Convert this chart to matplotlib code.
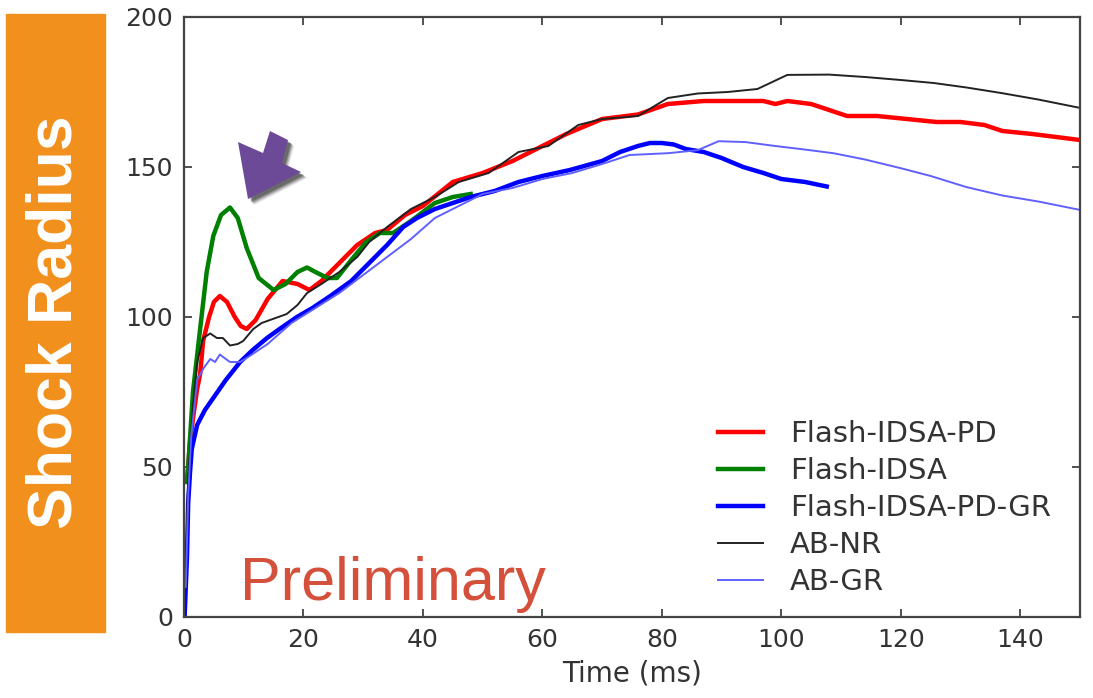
import matplotlib
matplotlib.use("Agg")
import matplotlib.pyplot as plt
from matplotlib.patches import Rectangle, Polygon

# Flash-IDSA-PD (red)
pd_t = [0.5, 1.0, 1.5, 2.2, 2.7, 3.2, 4.2, 5.0, 6.0, 7.2, 8.5, 9.5, 10.5, 12, 14, 16.5, 19, 21,
        23, 26, 29, 32, 34, 37, 40, 45, 50, 55, 59, 64, 70, 76, 81, 87, 92, 97, 99, 101, 105,
        108, 111, 116, 121, 126, 130, 134, 137, 142, 146, 150]
pd_r = [45, 58, 66, 76, 81, 92, 100, 105, 107, 105, 100, 97, 96, 99, 106, 112, 111, 109,
        112, 118, 124, 128, 129, 134, 137, 145, 148, 152, 156, 161, 166, 167.5, 171, 172, 172,
        172, 171, 172, 171, 169, 167, 167, 166, 165, 165, 164, 162, 161, 160, 159]

# Flash-IDSA (green)
idsa_t = [0.5, 0.7, 1.5, 2.7, 3.8, 4.9, 6.2, 7.7, 9, 10.5, 12.5, 15, 17, 19, 20.6, 22, 24,
          25.6, 28, 30.5, 32.8, 35, 38, 42, 45, 48]
idsa_r = [45, 50, 75, 96, 115, 127, 134, 136.5, 133, 123, 113, 109, 111, 115, 116.5, 115, 113,
          113, 119, 125, 128, 128, 132, 138, 140, 141]

# Flash-IDSA-PD-GR (blue)
gr_t = [0.1, 0.3, 0.5, 0.7, 1.0, 1.3, 2.2, 3.5, 4.9, 7, 9.4, 11.5, 13.9, 16, 18.9, 21.5, 24.5,
        28, 31, 34, 36.7, 39, 42, 45, 48, 52, 56, 60, 64.6, 70, 73, 76, 78, 80, 82, 84, 87, 90,
        93.6, 97, 100, 104, 107.6]
gr_r = [0, 10, 20, 38, 48, 56, 64, 69, 73, 79, 85, 89, 93, 96, 100, 103, 107, 112, 118, 124,
        130, 133, 136, 138, 140, 142, 145, 147, 149, 152, 155, 157, 158, 158, 157.5, 156, 155,
        153, 150, 148, 146, 145, 143.5]

# AB-NR (black)
abnr_t = [0.3, 0.6, 1.0, 1.5, 2.2, 3.2, 4.4, 5.5, 6.5, 7.7, 9, 9.9, 11.6, 13, 14.4, 17.2, 19,
          20.6, 23, 26, 29, 31, 34, 38, 42, 46, 51, 56, 61, 66, 70, 76, 81, 86, 91, 96, 101,
          108, 114, 120, 125.5, 131, 137, 143, 150]
abnr_r = [10, 40, 55, 70, 85, 93, 94.5, 93, 93, 90.5, 91, 92, 96, 98, 99, 101, 104, 108, 111,
          115, 120, 125, 130, 136, 140, 145, 148, 155, 157, 164, 166, 167, 173, 174.5, 175,
          176, 180.7, 180.8, 180, 179, 178, 176.5, 174.6, 172.5, 169.7]

# AB-GR (light blue)
abgr_t = [0.3, 0.7, 1.2, 2.2, 3.3, 4.4, 5.2, 6, 7, 7.7, 9.4, 11, 14, 18, 22, 26, 30, 34, 38,
          42, 46, 50, 55, 60, 65, 70, 74.6, 81, 86, 89.5, 94, 99, 104, 108.7, 114, 120, 125,
          131, 137, 143, 150]
abgr_r = [10, 40, 60, 79, 83, 86, 85, 87.5, 86, 85, 85, 87, 91, 98, 103, 108, 114, 120, 126,
          133, 137, 141, 143, 146, 148, 151, 154, 154.6, 155.6, 158.6, 158.3, 157, 155.8,
          154.6, 152.5, 149.6, 147, 143.3, 140.5, 138.5, 135.7]

x_ticks = [0, 20, 40, 60, 80, 100, 120, 140]
y_ticks = [0, 50, 100, 150, 200]

W, H = 1093, 698
fig = plt.figure(figsize=(W / 100, H / 100), dpi=100)
ax = fig.add_axes([184 / W, 81 / H, 896 / W, 600 / H])

ax.plot(pd_t, pd_r, color="#ff0000", lw=3.2, label="Flash-IDSA-PD")
ax.plot(idsa_t, idsa_r, color="#008000", lw=3.2, label="Flash-IDSA")
ax.plot(gr_t, gr_r, color="#0000ff", lw=3.2, label="Flash-IDSA-PD-GR")
ax.plot(abnr_t, abnr_r, color="#222222", lw=1.4, label="AB-NR")
ax.plot(abgr_t, abgr_r, color="#6060ff", lw=1.4, label="AB-GR")

ax.set_xlim(0, 150)
ax.set_ylim(0, 200)
ax.set_xticks(x_ticks)
ax.set_yticks(y_ticks)
ax.tick_params(direction="in", top=True, right=True, length=6, width=1.2,
               labelsize=18, colors="#333333", pad=8)
for s in ax.spines.values():
    s.set_linewidth(1.6)
    s.set_color("#444444")
ax.set_xlabel("Time (ms)", fontsize=20, color="#333333", labelpad=5)

ax.legend(loc="lower left", bbox_to_anchor=(0.596, 0.035), frameon=False, fontsize=21,
          borderpad=0, borderaxespad=0, handlelength=1.55, handletextpad=0.92,
          labelspacing=0.31, labelcolor="#333333")

# orange side label
fig.patches.append(Rectangle((6 / W, 1 - 632 / H), 99 / W, 618 / H,
                             transform=fig.transFigure, color="#f2901e", zorder=0))
fig.text(55 / W, 1 - 322 / H, "Shock Radius", rotation=90, ha="center", va="center",
         color="white", fontsize=45, fontweight="bold", family="Liberation Sans")

# purple arrow with soft shadow
arrow_px = [(248, 199), (238, 142), (263, 153), (270, 131), (288, 140), (282, 163), (301, 172)]
for off, a in [(6, 0.12), (5, 0.18), (4, 0.25), (3, 0.3)]:
    shadow = [((x + off) / W, 1 - (y + off) / H) for x, y in arrow_px]
    fig.patches.append(Polygon(shadow, closed=True, transform=fig.transFigure,
                               color="#111111", alpha=a, lw=0, zorder=5))
arrow = [(x / W, 1 - y / H) for x, y in arrow_px]
fig.patches.append(Polygon(arrow, closed=True, transform=fig.transFigure,
                           color="#6c4a97", lw=0, zorder=6))

fig.text(240 / W, 1 - 600 / H, "Preliminary", ha="left", va="baseline",
         color="#d5503a", fontsize=44, family="Liberation Sans")

fig.savefig("out.png", dpi=100)
